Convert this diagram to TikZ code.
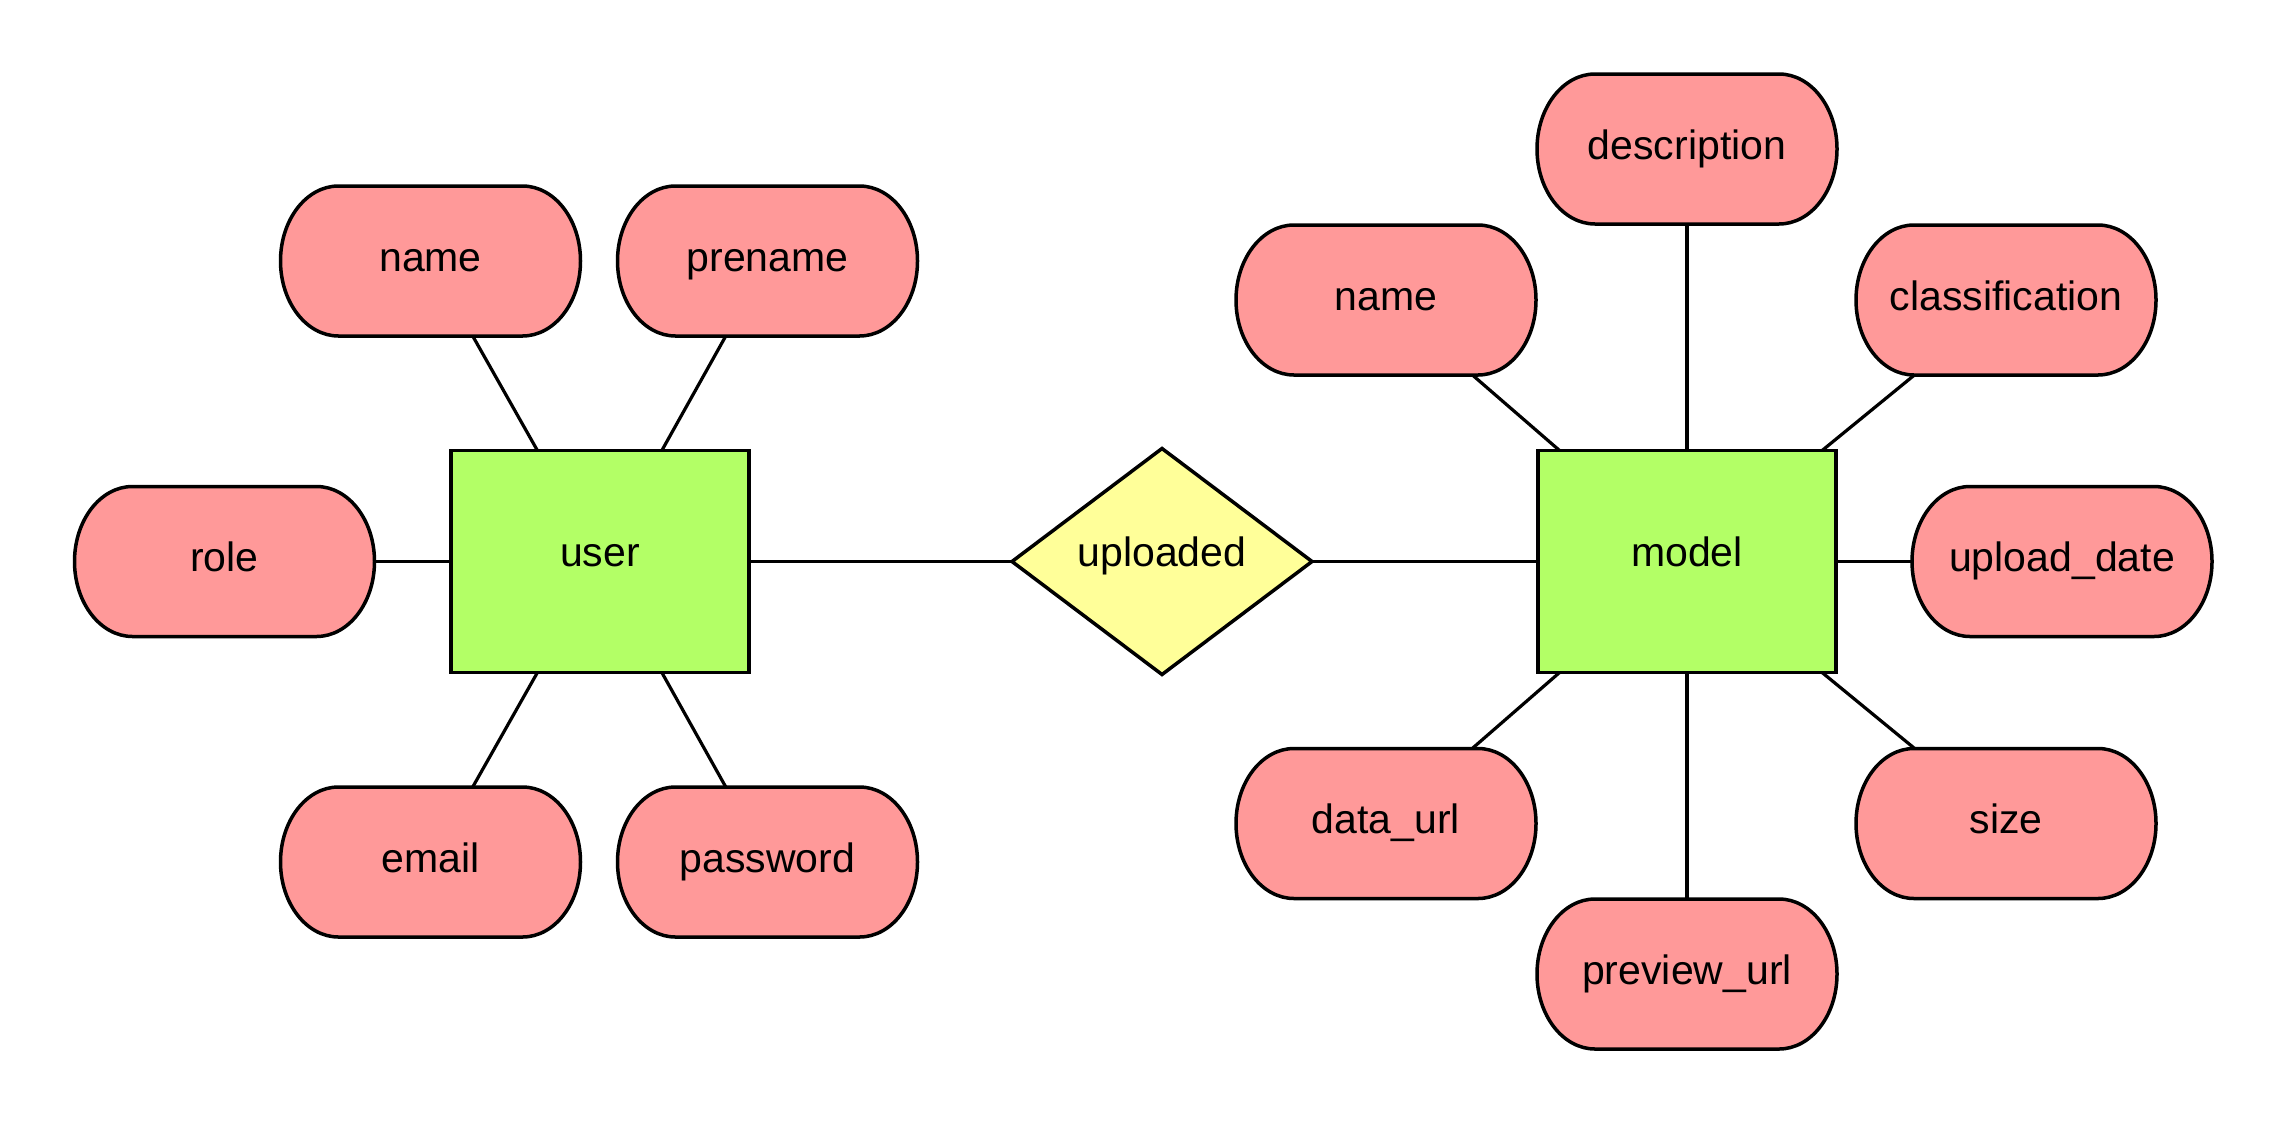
\documentclass[tikz,border=0pt]{standalone}
\usepackage{fontspec}
\setmainfont{Liberation Sans}
\usetikzlibrary{shapes.geometric}
\pgfdeclarelayer{bg}
\pgfdeclarelayer{shp}
\pgfsetlayers{bg,shp,main}
\definecolor{attrc}{HTML}{FF9999}
\definecolor{entc}{HTML}{B3FF66}
\definecolor{relc}{HTML}{FFFF99}
\tikzset{
 base/.style={inner sep=0pt, outer sep=0pt, font=\fontsize{41}{49}\selectfont},
 attr/.style={base, rectangle, minimum width=300pt, minimum height=150pt, text height=30pt, text depth=10pt},
 entity/.style={base, rectangle, draw, fill=entc, line width=3.5pt, minimum width=298pt, minimum height=222pt, text height=25pt, text depth=15pt},
 rel/.style={base, diamond, draw, fill=relc, line width=3.5pt, minimum width=300pt, minimum height=226pt, text height=25pt, text depth=15pt},
 link/.style={line width=3.2pt},
 attrshape/.style={fill=attrc, draw, line width=3.5pt},
}
\newcommand{\attrbody}[1]{%
 \begin{pgfonlayer}{shp}
 \path[attrshape] ([xshift=58pt]#1.south west) -- ([xshift=-58pt]#1.south east)
   arc[start angle=-90,end angle=90,x radius=58pt,y radius=75pt]
   -- ([xshift=58pt]#1.north west)
   arc[start angle=90,end angle=270,x radius=58pt,y radius=75pt] -- cycle;
 \end{pgfonlayer}}
\begin{document}
\begin{tikzpicture}[x=1pt,y=-1pt]
\useasboundingbox (0,0) rectangle (2288,1125);
% entities and relation
\node[entity] (user) at (600,561.5) {user};
\node[rel] (upl) at (1162,561.5) {uploaded};
\node[entity] (model) at (1687,561.5) {model};
% user attributes
\node[attr] (uname) at (430.5,261) {name}; \attrbody{uname}
\node[attr] (prename) at (767.5,261) {prename}; \attrbody{prename}
\node[attr] (role) at (224.5,561.5) {role}; \attrbody{role}
\node[attr] (email) at (430.5,862) {email}; \attrbody{email}
\node[attr] (password) at (767.5,862) {password}; \attrbody{password}
% model attributes
\node[attr] (descr) at (1687,149) {description}; \attrbody{descr}
\node[attr] (mname) at (1386,300) {name}; \attrbody{mname}
\node[attr] (classif) at (2006,300) {classification}; \attrbody{classif}
\node[attr] (udate) at (2062,561.5) {upload\_date}; \attrbody{udate}
\node[attr] (dataurl) at (1386,823.5) {data\_url}; \attrbody{dataurl}
\node[attr] (size) at (2006,823.5) {size}; \attrbody{size}
\node[attr] (prevurl) at (1687,974) {preview\_url}; \attrbody{prevurl}
% connectors
\begin{pgfonlayer}{bg}
\draw[link] (uname) -- (user);
\draw[link] (prename) -- (user);
\draw[link] (role) -- (user);
\draw[link] (email) -- (user);
\draw[link] (password) -- (user);
\draw[link] (user) -- (upl);
\draw[link] (upl) -- (model);
\draw[link] (descr) -- (model);
\draw[link] (mname) -- (model);
\draw[link] (classif) -- (model);
\draw[link] (udate) -- (model);
\draw[link] (dataurl) -- (model);
\draw[link] (size) -- (model);
\draw[link] (prevurl) -- (model);
\end{pgfonlayer}
\end{tikzpicture}
\end{document}
